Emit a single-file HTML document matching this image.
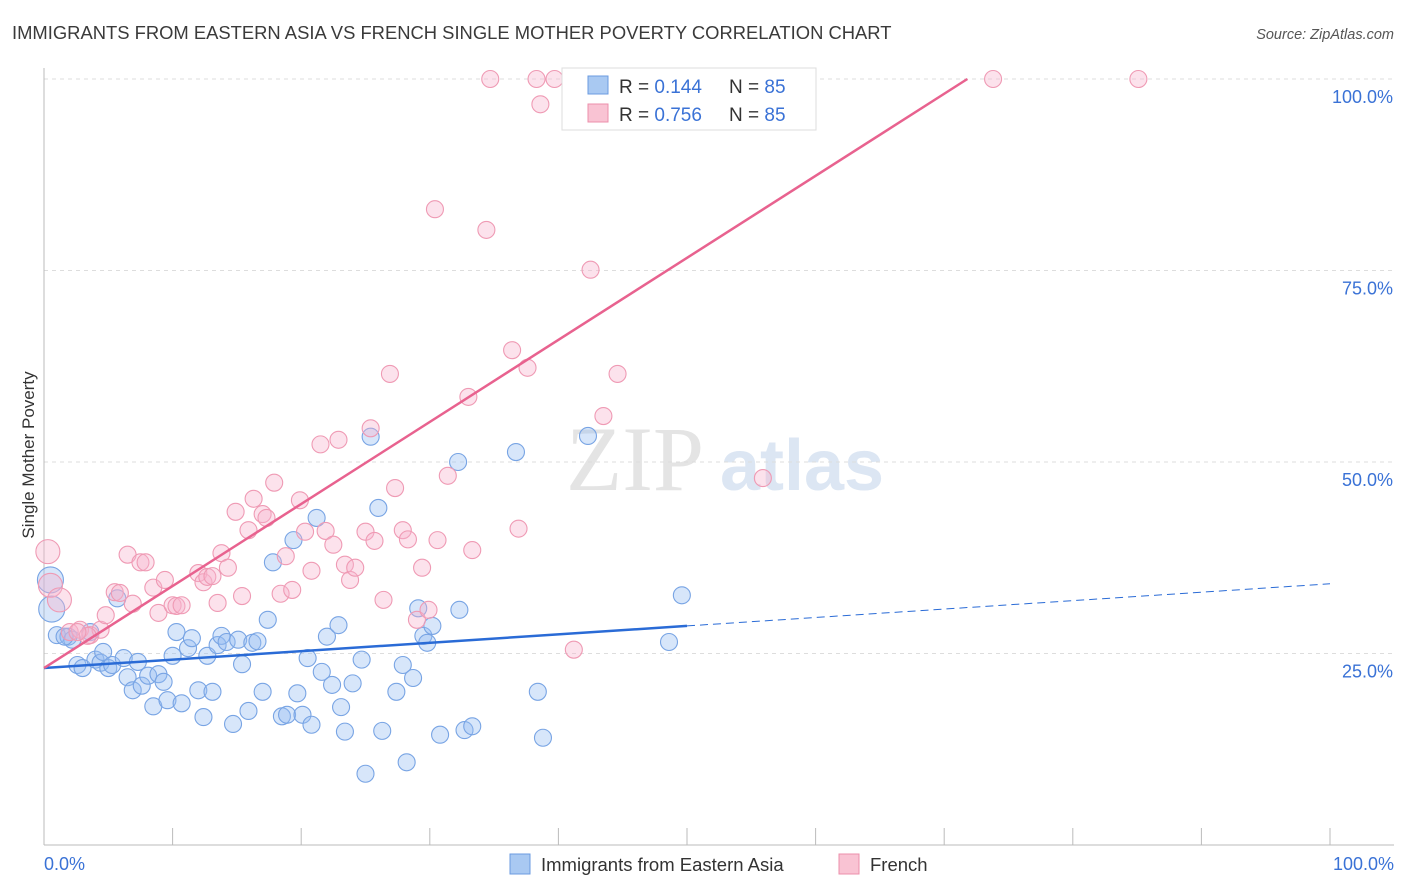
<!DOCTYPE html>
<html><head><meta charset="utf-8"><style>
body{margin:0;background:#fff;font-family:"Liberation Sans",sans-serif;}
</style></head><body>
<svg id="chart" width="1406" height="892" xmlns="http://www.w3.org/2000/svg" style="display:block">
<text x="12" y="39" font-size="18.4" fill="#3a3a3a">IMMIGRANTS FROM EASTERN ASIA VS FRENCH SINGLE MOTHER POVERTY CORRELATION CHART</text>
<text x="1394" y="39" font-size="14.5" fill="#555" font-style="italic" text-anchor="end">Source: ZipAtlas.com</text>
<g><text x="635" y="490" font-size="92" fill="#e4e4e4" font-family="Liberation Serif,serif" text-anchor="middle">ZIP</text><text x="802" y="490" font-size="72" fill="#dce6f3" font-weight="bold" text-anchor="middle">atlas</text></g>
<g id="grid"></g><g id="axes"></g><g id="pts"></g><g id="trend"></g>
<text transform="translate(34,455) rotate(-90)" font-size="17" fill="#333" text-anchor="middle">Single Mother Poverty</text>
<g>
<rect x="562" y="68" width="254" height="62" fill="#fff" stroke="#ddd"/>
<rect x="588" y="76" width="20" height="18" fill="#a9c9f2" stroke="#6b9be0"/>
<rect x="588" y="104" width="20" height="18" fill="#f9c3d3" stroke="#ec8fab"/>
<text x="619" y="93" font-size="19" fill="#333">R = <tspan fill="#3a72d6">0.144</tspan></text>
<text x="729" y="93" font-size="19" fill="#333">N = <tspan fill="#3a72d6">85</tspan></text>
<text x="619" y="121" font-size="19" fill="#333">R = <tspan fill="#3a72d6">0.756</tspan></text>
<text x="729" y="121" font-size="19" fill="#333">N = <tspan fill="#3a72d6">85</tspan></text>
</g>
<g>
<rect x="510" y="854" width="20" height="20" fill="#a9c9f2" stroke="#6b9be0"/>
<text x="541" y="871" font-size="18.5" fill="#333">Immigrants from Eastern Asia</text>
<rect x="839" y="854" width="20" height="20" fill="#f9c3d3" stroke="#ec8fab"/>
<text x="870" y="871" font-size="18.5" fill="#333">French</text>
</g>
</svg>
<script>
const blueX=[1.0,1.9,2.2,2.6,3.0,3.6,4.0,4.4,4.6,5.0,5.3,5.7,6.2,6.5,6.9,7.3,7.6,8.1,8.5,8.9,9.3,9.6,10.0,10.3,10.7,11.2,11.5,12.0,12.4,12.7,13.1,13.5,13.8,14.2,14.7,15.1,15.4,15.9,16.2,16.6,17.0,17.4,17.8,18.5,18.9,19.4,19.7,20.1,20.5,20.8,21.2,21.6,22.0,22.4,22.9,23.1,23.4,24.0,24.7,25.0,25.4,26.0,26.3,27.4,27.9,28.2,28.7,29.1,29.5,29.8,30.2,30.8,32.2,32.3,32.7,33.3,36.7,38.4,38.8,42.3,48.6,49.6,0.6,0.5,1.6];
const blueY=[27.4,27.2,26.8,23.5,23.1,27.8,24.2,23.8,25.2,23.1,23.5,32.2,24.4,21.9,20.2,23.9,20.8,22.1,18.1,22.3,21.3,18.9,24.7,27.8,18.5,25.7,27.0,20.2,16.7,24.7,20.0,26.1,27.3,26.5,15.8,26.8,23.6,17.5,26.4,26.6,20.0,29.4,36.9,16.8,17.0,39.8,19.8,17.0,24.4,15.7,42.7,22.6,27.2,20.9,28.7,18.0,14.8,21.1,24.2,9.3,53.3,44.0,14.9,20.0,23.5,10.8,21.8,30.9,27.3,26.4,28.6,14.4,50.0,30.7,15.0,15.5,51.3,20.0,14.0,53.4,26.5,32.6,30.8,34.6,27.2];
const pinkX=[0.3,0.5,1.2,2.0,2.8,3.6,4.4,4.8,5.5,5.9,6.5,6.9,7.5,7.9,8.5,8.9,9.4,10.0,10.3,10.7,12.0,12.4,12.7,13.1,13.5,13.8,14.3,14.9,15.4,15.9,16.3,17.0,17.3,17.9,18.4,18.8,19.3,19.9,20.3,20.8,21.5,21.9,22.5,22.9,23.4,23.8,24.2,25.0,25.4,25.7,26.4,26.9,27.3,27.9,28.3,29.0,29.4,29.9,30.4,30.6,31.4,33.0,33.3,34.4,34.7,36.4,36.9,37.6,38.3,38.6,39.7,41.2,42.5,43.5,44.6,55.9,73.8,85.1,51.4,42.0,44.8,51.0,3.4,2.6];
const pinkY=[38.3,33.9,32.0,27.8,28.1,27.4,28.1,30.0,33.0,32.9,37.9,31.5,36.9,36.9,33.6,30.3,34.6,31.3,31.2,31.3,35.5,34.3,35.0,35.1,31.6,38.1,36.2,43.5,32.5,41.1,45.2,43.2,42.7,47.3,32.8,37.7,33.3,45.0,40.9,35.8,52.3,41.0,39.2,52.9,36.6,34.6,36.2,40.9,54.4,39.7,32.0,61.5,46.6,41.1,39.9,29.4,36.2,30.7,83.0,39.8,48.2,58.5,38.5,80.3,100,64.6,41.3,62.3,100,96.7,100,25.5,75.1,56.0,61.5,47.9,100,100,100,100,100,100,27.3,27.8];
const yTicks=[25,50,75,100];
const xTicks=[0,10,20,30,40,50,60,70,80,90,100];
const blueTrend=[0,23.1,50,28.6,100,34.1];
const pinkTrend=[0,23.1,71.8,100];
const NS="http://www.w3.org/2000/svg";
const sx=v=>44+v*12.86, sy=v=>845-v*7.66;
function mk(p,t,a){const e=document.createElementNS(NS,t);for(const k in a)e.setAttribute(k,a[k]);p.appendChild(e);return e;}
const grid=document.getElementById('grid'),axes=document.getElementById('axes'),pts=document.getElementById('pts'),tr=document.getElementById('trend');
yTicks.forEach(t=>{const l=mk(grid,'line',{x1:44,x2:1394,y1:sy(t),y2:sy(t),stroke:'#ddd','stroke-dasharray':'4,4'});


const tx=mk(axes,'text',{x:1393,y:sy(t)+24,'font-size':18,fill:'#3a72d6','text-anchor':'end'});tx.textContent=t.toFixed(1)+'%';

});
mk(axes,'line',{x1:44,x2:44,y1:68,y2:845,stroke:'#bbb'});
mk(axes,'line',{x1:44,x2:1394,y1:845,y2:845,stroke:'#bbb'});
xTicks.forEach(t=>{const l=mk(axes,'line',{x1:sx(t),x2:sx(t),y1:828,y2:845,stroke:'#bbb'});

});
[[0,'0.0%','start',44],[100,'100.0%','end',1394]].forEach(a=>{const tx=mk(axes,'text',{x:a[3],y:870,'font-size':18,fill:'#3a72d6','text-anchor':a[2]});tx.textContent=a[1];

});
blueX.forEach((x,i)=>{const c=mk(pts,'circle',{cx:sx(x),cy:sy(blueY[i]),r:(i>=82&&i<84)?13:8.5,fill:'rgba(150,188,242,0.38)',stroke:'#78a4e4','stroke-width':1.1});

});
pinkX.forEach((x,i)=>{const c=mk(pts,'circle',{cx:sx(x),cy:sy(pinkY[i]),r:(i<3)?12:8.5,fill:'rgba(248,180,204,0.38)',stroke:'#ef9ab4','stroke-width':1.1});

});
const b1=mk(tr,'line',{x1:sx(blueTrend[0]),y1:sy(blueTrend[1]),x2:sx(blueTrend[2]),y2:sy(blueTrend[3]),stroke:'#2a6bd6','stroke-width':2.5});


const b2=mk(tr,'line',{x1:sx(blueTrend[2]),y1:sy(blueTrend[3]),x2:sx(blueTrend[4]),y2:sy(blueTrend[5]),stroke:'#2a6bd6','stroke-width':1,'stroke-dasharray':'8,5'});


const p1=mk(tr,'line',{x1:sx(pinkTrend[0]),y1:sy(pinkTrend[1]),x2:sx(pinkTrend[2]),y2:sy(pinkTrend[3]),stroke:'#e8628f','stroke-width':2.5});


</script>
</body></html>
